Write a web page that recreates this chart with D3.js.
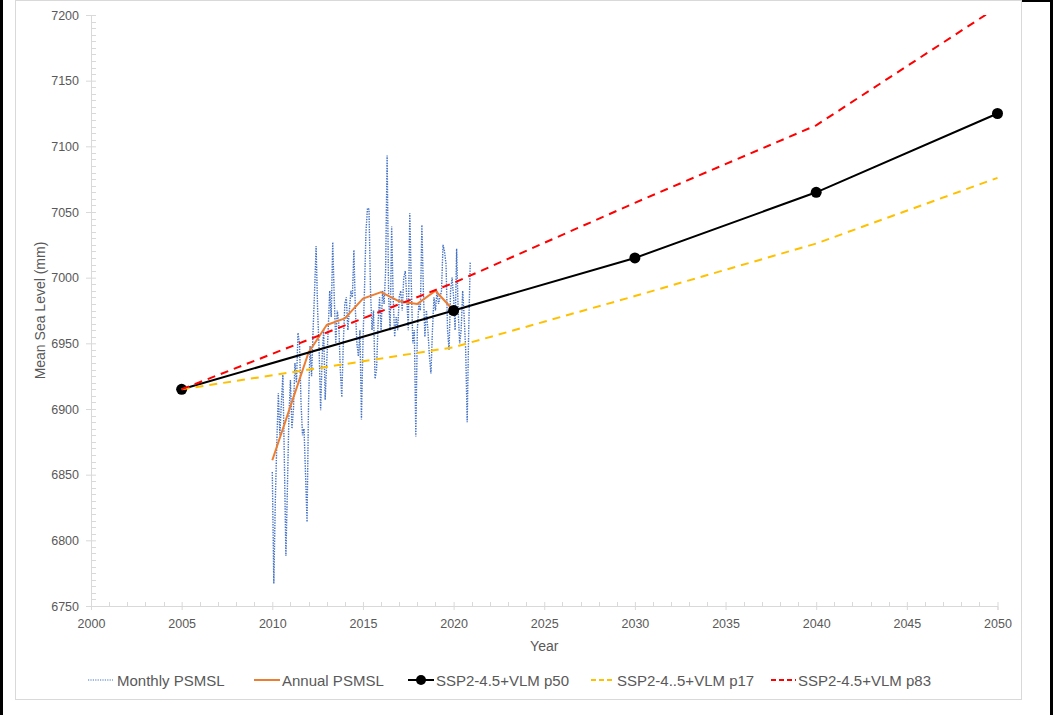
<!DOCTYPE html>
<html>
<head>
<meta charset="utf-8">
<script src="https://cdn.jsdelivr.net/npm/d3@7"></script>
<style>
  html, body { margin: 0; padding: 0; background: #fff; }
  svg { display: block; }
  text { font-family: "Liberation Sans", Arial, sans-serif; fill: #595959; }
</style>
</head>
<body>
<svg id="chart" width="1053" height="715"></svg>
<script>
// ---------------- DATA ----------------
const monthlyStartYear = 2010;
const monthlyValues = [
  6852, 6767, 6830, 6875, 6912, 6880, 6905, 6926, 6860, 6788, 6840, 6895,
  6922, 6885, 6900, 6935, 6920, 6958, 6950, 6905, 6880, 6885, 6850, 6814,
  6905, 6948, 6925, 6960, 6990, 7024, 6975, 6945, 6899, 6940, 6960, 6907,
  6935, 6960, 6990, 6970, 7027, 6985, 6950, 6975, 6965, 6930, 6909, 6950,
  6980, 6985, 6960, 6975, 6990, 6985, 7021, 6975, 6950, 6940, 6960, 6892,
  6950, 6990, 7035, 7053, 7052, 6990, 6960, 6975, 6923, 6930, 6965, 6985,
  6960, 6990, 6980, 7005, 7093, 6985, 6960, 7039, 6985, 6955, 6970, 6960,
  6985, 6990, 6975, 7000, 7005, 6985, 6960, 7049, 6995, 6950, 6960, 6879,
  6960, 6980, 6975, 7040, 6990, 6955, 6975, 6960, 6940, 6927, 6960, 6985,
  6975, 6990, 6980, 6985, 6990, 7025, 7020, 7010, 6960, 6945, 6990, 7000,
  6985, 6960, 7022, 6975, 6950, 6960, 6990, 6970, 6945, 6890, 6960, 7012
];
const annualYears  = [2010, 2011, 2012, 2013, 2014, 2015, 2016, 2017, 2018, 2019, 2020];
const annualValues = [6861, 6902, 6943, 6964, 6969, 6984, 6989, 6982, 6980, 6990, 6975];

const projYears = [2005, 2020, 2030, 2040, 2050];
const p50Values = [6915, 6975, 7015, 7065, 7125];
const p17Values = [6915, 6947, 6986, 7026, 7076];
const p83Values = [6915, 6996, 7057, 7116, 7206];

const xTicks = [2000, 2005, 2010, 2015, 2020, 2025, 2030, 2035, 2040, 2045, 2050];
const yTicks = [6750, 6800, 6850, 6900, 6950, 7000, 7050, 7100, 7150, 7200];

const legendLabels = ["Monthly PSMSL", "Annual PSMSL", "SSP2-4.5+VLM p50", "SSP2-4..5+VLM p17", "SSP2-4.5+VLM p83"];

// ---------------- CHART ----------------
const svg = d3.select("#chart");
const W = 1053, H = 715;

// outer frame
svg.append("rect").attr("x", 0).attr("y", 0).attr("width", 3).attr("height", H).attr("fill", "#000");
svg.append("rect").attr("x", 1050).attr("y", 0).attr("width", 3).attr("height", H).attr("fill", "#000");
svg.append("rect").attr("x", 1021).attr("y", 0).attr("width", 32).attr("height", 2).attr("fill", "#000");
svg.append("rect").attr("x", 15.5).attr("y", 0.5).attr("width", 1006).attr("height", 699)
  .attr("fill", "#fff").attr("stroke", "#d9d9d9").attr("stroke-width", 1);

const x = d3.scaleLinear().domain([2000, 2050]).range([91, 997.5]);
const y = d3.scaleLinear().domain([6750, 7200]).range([606, 15]);

const axisColor = "#d9d9d9";

// minor ticks y (inside)
const yMinor = d3.range(6750, 7200.1, 5).filter(v => v % 50 !== 0);
const gy = svg.append("g").attr("transform", `translate(${x(2000)},0)`);
gy.selectAll("line.minor").data(yMinor).join("line")
  .attr("x1", 0).attr("x2", 5).attr("y1", d => Math.round(y(d)) + 0.5).attr("y2", d => Math.round(y(d)) + 0.5)
  .attr("stroke", axisColor);
const yAxis = d3.axisLeft(y).tickValues(yTicks).tickSize(5).tickPadding(8).tickFormat(d3.format("d"));
gy.call(yAxis);
gy.select(".domain").attr("stroke", axisColor);
gy.selectAll(".tick line").attr("stroke", axisColor).attr("x2", -5).attr("x1", 5);
gy.selectAll(".tick text").attr("font-size", "12.5px").attr("fill", "#595959")
  .style("font-family", "'Liberation Sans', Arial, sans-serif").attr("x", -12);

// x axis
const xMinor = d3.range(2000, 2050.1, 1).filter(v => v % 5 !== 0);
const gx = svg.append("g").attr("transform", `translate(0,${y(6750)})`);
gx.selectAll("line.minor").data(xMinor).join("line")
  .attr("y1", 0).attr("y2", -4).attr("x1", d => Math.round(x(d)) + 0.5).attr("x2", d => Math.round(x(d)) + 0.5)
  .attr("stroke", axisColor);
const xAxis = d3.axisBottom(x).tickValues(xTicks).tickSize(4).tickPadding(9).tickFormat(d3.format("d"));
gx.call(xAxis);
gx.select(".domain").attr("stroke", axisColor);
gx.selectAll(".tick line").attr("stroke", axisColor).attr("y1", -4).attr("y2", 4);
gx.selectAll(".tick text").attr("font-size", "12.5px").attr("fill", "#595959")
  .style("font-family", "'Liberation Sans', Arial, sans-serif");

// axis titles
svg.append("text").attr("x", x(2025)).attr("y", 651).attr("text-anchor", "middle")
  .attr("font-size", "14px").text("Year");
svg.append("text").attr("transform", `translate(45,${(y(6750) + y(7200)) / 2}) rotate(-90)`)
  .attr("text-anchor", "middle").attr("font-size", "14px").text("Mean Sea Level (mm)");

// clip
svg.append("clipPath").attr("id", "plotclip").append("rect")
  .attr("x", x(2000)).attr("y", y(7200)).attr("width", x(2050) - x(2000) + 10).attr("height", y(6750) - y(7200));

const plot = svg.append("g").attr("clip-path", "url(#plotclip)");
const line = d3.line().x(d => x(d[0])).y(d => y(d[1]));

const monthly = monthlyValues.map((v, i) => [monthlyStartYear + i / 12, v]);
const annual = annualYears.map((yr, i) => [yr, annualValues[i]]);
const p50 = projYears.map((yr, i) => [yr, p50Values[i]]);
const p17 = projYears.map((yr, i) => [yr, p17Values[i]]);
const p83 = projYears.map((yr, i) => [yr, p83Values[i]]);

plot.append("path").datum(monthly).attr("d", line).attr("fill", "none")
  .attr("stroke", "#4472C4").attr("stroke-width", 1.4).attr("stroke-dasharray", "1.4,1.2");
plot.append("path").datum(annual).attr("d", line).attr("fill", "none")
  .attr("stroke", "#ED7D31").attr("stroke-width", 2).attr("stroke-linejoin", "round");
plot.append("path").datum(p50).attr("d", line).attr("fill", "none")
  .attr("stroke", "#000").attr("stroke-width", 2);
plot.selectAll("circle.p50").data(p50).join("circle")
  .attr("cx", d => x(d[0])).attr("cy", d => y(d[1])).attr("r", 5.5).attr("fill", "#000");
plot.append("path").datum(p17).attr("d", line).attr("fill", "none")
  .attr("stroke", "#FFC000").attr("stroke-width", 2).attr("stroke-dasharray", "8,6");
plot.append("path").datum(p83).attr("d", line).attr("fill", "none")
  .attr("stroke", "#FF0000").attr("stroke-width", 2).attr("stroke-dasharray", "8,6");

// legend
const ly = 680;
const leg = svg.append("g");
const items = [
  {x1: 88, x2: 113, tx: 117, stroke: "#4472C4", w: 1.2, dash: "1.2,1.2", marker: false},
  {x1: 254, x2: 280, tx: 282, stroke: "#ED7D31", w: 2, dash: null, marker: false},
  {x1: 408, x2: 434, tx: 436, stroke: "#000", w: 2, dash: null, marker: true},
  {x1: 591, x2: 615, tx: 617, stroke: "#FFC000", w: 2, dash: "5,3", marker: false},
  {x1: 771, x2: 796, tx: 798, stroke: "#FF0000", w: 2, dash: "5,3", marker: false}
];
items.forEach((it, i) => {
  const l = leg.append("line").attr("x1", it.x1).attr("x2", it.x2).attr("y1", ly).attr("y2", ly)
    .attr("stroke", it.stroke).attr("stroke-width", it.w);
  if (it.dash) l.attr("stroke-dasharray", it.dash);
  if (it.marker) leg.append("circle").attr("cx", (it.x1 + it.x2) / 2).attr("cy", ly).attr("r", 5).attr("fill", "#000");
  leg.append("text").attr("x", it.tx).attr("y", ly + 5.5).attr("font-size", "15px").text(legendLabels[i]);
});
</script>
</body>
</html>
